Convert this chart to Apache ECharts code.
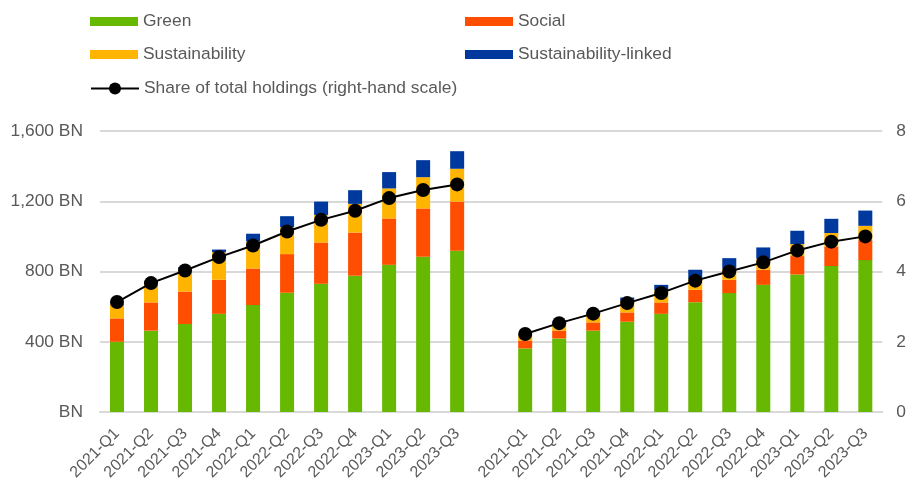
<!DOCTYPE html>
<html>
<head>
<meta charset="utf-8">
<script src="https://cdn.jsdelivr.net/npm/echarts@6/dist/echarts.min.js"></script>
<style>
  html, body { margin: 0; padding: 0; background: #fff; }
  #chart { width: 909px; height: 484px; }
</style>
</head>
<body>
<div id="chart"></div>
<script>
// two panels of quarters, one empty slot between them
const quarters = ['2021-Q1', '2021-Q2', '2021-Q3', '2021-Q4', '2022-Q1', '2022-Q2',
  '2022-Q3', '2022-Q4', '2023-Q1', '2023-Q2', '2023-Q3']
const categories = [...quarters, '', ...quarters]

const green = [400, 463, 501, 559, 609, 679, 730, 776, 838, 884, 918, null,
  362, 419, 463, 514, 559, 625, 677, 724, 783, 831, 865]
const social = [133, 161, 185, 194, 208, 220, 235, 246, 264, 275, 280, null,
  45, 45, 47, 53, 65, 71, 76, 86, 105, 110, 115]
const sustainability = [80, 105, 130, 157, 154, 153, 157, 163, 171, 178, 187, null,
  30, 40, 50, 65, 70, 62, 63, 62, 68, 78, 80]
const linked = [3, 5, 8, 15, 44, 63, 76, 78, 93, 97, 100, null,
  3, 5, 8, 20, 30, 52, 60, 65, 76, 81, 87]
const share = [3.13, 3.67, 4.03, 4.41, 4.74, 5.14, 5.47, 5.73, 6.09, 6.32, 6.48, null,
  2.22, 2.53, 2.80, 3.10, 3.39, 3.74, 4.00, 4.26, 4.60, 4.85, 5.00]

const textColor = '#595959'
const font = 'Liberation Sans, Arial, sans-serif'
const fontSize = 17.4

const chart = echarts.init(document.getElementById('chart'))

const legendBase = {
  icon: 'rect',
  itemWidth: 48,
  itemHeight: 9,
  itemGap: 0,
  textStyle: { color: textColor, fontSize, fontFamily: font },
  selectedMode: false
}

const barSeries = (name, data, color) => ({
  name,
  type: 'bar',
  stack: 'total',
  data,
  barWidth: 14,
  itemStyle: { color },
  emphasis: { disabled: true }
})

chart.setOption({
  animation: false,
  legend: [
    { ...legendBase, left: 85, top: 8, data: ['Green'] },
    { ...legendBase, left: 460, top: 8, data: ['Social'] },
    { ...legendBase, left: 85, top: 41, data: ['Sustainability'] },
    { ...legendBase, left: 460, top: 41, data: ['Sustainability-linked'] },
    {
      ...legendBase,
      icon: undefined,
      left: 85,
      top: 75,
      itemHeight: 15,
      data: ['Share of total holdings (right-hand scale)']
    }
  ],
  grid: { left: 100, right: 26, top: 131, bottom: 72, containLabel: false },
  xAxis: {
    type: 'category',
    data: categories,
    axisLine: { lineStyle: { color: '#d9d9d9', width: 2 } },
    axisTick: { show: false },
    axisLabel: {
      interval: 0,
      rotate: 45,
      color: textColor,
      fontSize: 16,
      fontFamily: font,
      margin: 19
    }
  },
  yAxis: [
    {
      type: 'value',
      min: 0,
      max: 1600,
      interval: 400,
      axisLine: { show: false },
      axisTick: { show: false },
      axisLabel: {
        color: textColor,
        fontSize,
        fontFamily: font,
        margin: 17,
        formatter: v => v === 0 ? 'BN' : v.toLocaleString('en-US') + ' BN'
      },
      splitLine: { lineStyle: { color: '#d9d9d9', width: 2 } }
    },
    {
      type: 'value',
      min: 0,
      max: 8,
      interval: 2,
      axisLine: { show: false },
      axisTick: { show: false },
      axisLabel: { color: textColor, fontSize, fontFamily: font, margin: 14 },
      splitLine: { show: false }
    }
  ],
  series: [
    barSeries('Green', green, '#66b800'),
    barSeries('Social', social, '#ff4e00'),
    barSeries('Sustainability', sustainability, '#ffb400'),
    barSeries('Sustainability-linked', linked, '#00399e'),
    {
      name: 'Share of total holdings (right-hand scale)',
      type: 'line',
      yAxisIndex: 1,
      data: share,
      connectNulls: false,
      symbol: 'circle',
      symbolSize: 14,
      lineStyle: { color: '#000', width: 2 },
      itemStyle: { color: '#000' },
      emphasis: { disabled: true },
      z: 5
    }
  ]
})
</script>
</body>
</html>
